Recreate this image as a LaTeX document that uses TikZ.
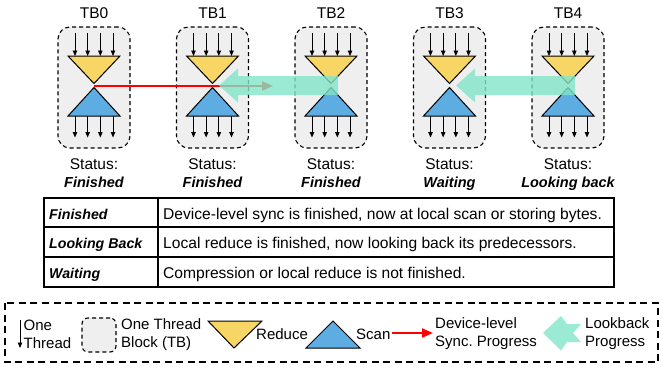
\documentclass[tikz,border=0pt]{standalone}
\usepackage{fontspec}
\setmainfont{Liberation Sans}
\usetikzlibrary{arrows.meta,calc}
\definecolor{triyellow}{RGB}{247,214,102}
\definecolor{triblue}{RGB}{93,172,226}
\definecolor{boxgray}{RGB}{239,239,239}
\definecolor{lbgreen}{RGB}{130,229,201}
\definecolor{syncred}{RGB}{255,0,0}
\begin{document}
\begin{tikzpicture}[x=1pt,y=-1pt,
  tbbox/.style={draw, dash pattern=on 4pt off 3pt, line width=1.1pt, rounded corners=12pt,
    fill=boxgray, minimum width=72pt, minimum height=121pt, inner sep=0pt},
  thread/.style={-{Triangle[length=5.5pt,width=4.5pt]}, line width=0.8pt},
  tri/.style={draw, line width=1pt, line join=miter},
  lbl/.style={font=\fontsize{15.5}{18}\selectfont, inner sep=0pt},
  stat/.style={font=\fontsize{14.5}{17}\selectfont\bfseries\itshape, inner sep=0pt},
  tbold/.style={font=\fontsize{14.2}{17}\selectfont\bfseries\itshape, inner sep=0pt, anchor=base west},
  ttext/.style={font=\fontsize{15.6}{18}\selectfont, inner sep=0pt, anchor=base west},
  leg/.style={font=\fontsize{15}{18}\selectfont, inner sep=0pt, align=left, anchor=west},
  syncarrow/.style={draw=syncred, line width=2pt, -{Triangle[length=11pt,width=9pt]}},
  lookback/.style={fill=lbgreen, fill opacity=0.8},
  tline/.style={line width=1.2pt}
]
\useasboundingbox (0,0) rectangle (663,367);

% thread blocks
\foreach \i/\cx/\st in {0/94/Finished,1/212.5/Finished,2/331/Finished,3/449.5/Waiting,4/568/Looking back}{
  \node[lbl, anchor=base] (tbl\i) at (\cx,18.5) {TB\i};
  \node[tbbox] (tb\i) at (\cx,87.5) {};
  \coordinate (mid\i) at (\cx,86);
  \foreach \dx in {-19,-6.33,6.33,19}{
    \draw[thread] (\cx+\dx,33) -- (\cx+\dx,56);
    \draw[thread] (\cx+\dx,116) -- (\cx+\dx,137.5);
  }
  \draw[tri, fill=triyellow] (\cx-26,56) -- (\cx+26,56) -- (\cx,83.5) -- cycle;
  \draw[tri, fill=triblue] (\cx,87.5) -- (\cx+26,116) -- (\cx-26,116) -- cycle;
  \node[lbl, anchor=base] (st\i) at (\cx,169) {Status:};
  \node[stat, anchor=base] (sv\i) at (\cx,187) {\st};
}

% device-level sync progress
\coordinate (syncend) at (273,86);
\draw[syncarrow] (mid0) -- (syncend);

% lookback arrows
\foreach \a/\b in {1/2,3/4}{
  \coordinate (tip) at ($(mid\a)+(6.5,-0.5)$);
  \coordinate (tail) at ($(mid\b)+(7,0)$);
  \fill[lookback] (tip) -- ($(tip)+(19,-17)$) -- ($(tip)+(19,-9.5)$) -- (tail|-{$(tip)+(0,-9.5)$})
    -- (tail|-{$(tip)+(0,9.5)$}) -- ($(tip)+(19,9.5)$) -- ($(tip)+(19,17)$) -- cycle;
}

% status table
\draw[tline] (44,198) rectangle (614,287);
\draw[tline] (44,227) -- (614,227);
\draw[tline] (44,257) -- (614,257);
\draw[tline] (158,198) -- (158,287);
\node[tbold] (k1) at (49,219) {Finished};
\node[tbold] (k2) at (49,248) {Looking Back};
\node[tbold] (k3) at (49,278) {Waiting};
\node[ttext] (d1) at (163,219) {Device-level sync is finished, now at local scan or storing bytes.};
\node[ttext] (d2) at (163,248) {Local reduce is finished, now looking back its predecessors.};
\node[ttext] (d3) at (163,278) {Compression or local reduce is not finished.};

% legend
\draw[line width=1.6pt, dash pattern=on 7pt off 4.5pt] (5,303) rectangle (658,362);
\coordinate (thA) at (20,320);
\coordinate (thB) at (20,348);
\draw[thread] (thA) -- (thB);
\node[leg] (lthread) at (23.5,334) {One\\Thread};
\node[tbbox, minimum width=34pt, minimum height=34pt, rounded corners=6pt] (lbox) at (99,335) {};
\node[leg] (lblock) at (121,334.5) {One Thread\\Block (TB)};
\draw[tri, fill=triyellow] (208,321) -- (262,321) -- (234,348) -- cycle;
\node[leg] (lreduce) at (256,334) {Reduce};
\draw[tri, fill=triblue] (306,348) -- (360,348) -- (333,321) -- cycle;
\node[leg] (lscan) at (356,334) {Scan};
\coordinate (lsA) at (392,333);
\coordinate (lsB) at (433,333);
\draw[syncarrow] (lsA) -- (lsB);
\node[leg] (lsync) at (435,334) {Device-level\\Sync.\ Progress};
\fill[lookback] (543,333) -- (561,316) -- (567,324) -- (581,324) -- (573,333) -- (581,342)
  -- (567,342) -- (561,350.5) -- cycle;
\node[leg] (llook) at (585,334) {Lookback\\Progress};
\end{tikzpicture}
\end{document}
